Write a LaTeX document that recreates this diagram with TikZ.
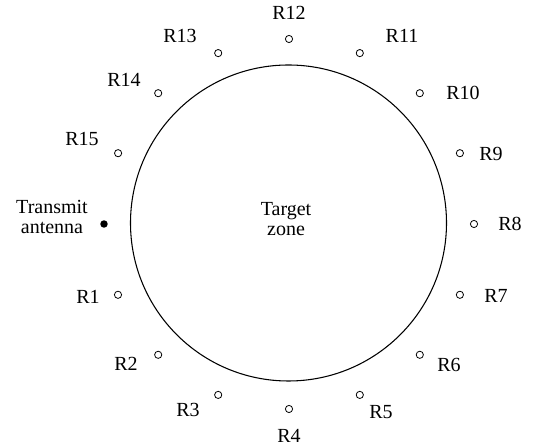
\documentclass[tikz,border=0pt]{standalone}
\usepackage{fontspec}
\setmainfont{Liberation Serif}
\usepackage{tikz}

\tikzset{
  rx/.style={circle,draw,line width=0.6pt,inner sep=0pt,minimum size=5.4pt},
  tx/.style={circle,fill,inner sep=0pt,minimum size=5.6pt},
  lbl/.style={inner sep=0.75pt,font=\fontsize{15}{15.5}\selectfont}
}

\begin{document}
\begin{tikzpicture}[x=0.75pt,y=0.75pt,yscale=-1,xscale=1]
\useasboundingbox (0,0) rectangle (533,448);

%Target zone
\draw [line width=0.8pt] (288.5,223) circle (158);
\node [lbl,align=center] (zone) at (286,219) {Target\\zone};

%Transmit antenna
\node [tx] (ant) at (104,224) {};
\node [lbl,align=center] (antlbl) at (52,217) {Transmit\\antenna};

%Receivers
\node [rx] (r1) at (118,294.8) {};
\node [rx] (r2) at (158.2,354.8) {};
\node [rx] (r3) at (218.2,394.9) {};
\node [rx] (r4) at (289,409) {};
\node [rx] (r5) at (359.8,394.9) {};
\node [rx] (r6) at (419.8,354.8) {};
\node [rx] (r7) at (459.9,294.8) {};
\node [rx] (r8) at (474,224) {};
\node [rx] (r9) at (459.9,153.2) {};
\node [rx] (r10) at (419.8,93.2) {};
\node [rx] (r11) at (359.8,53.1) {};
\node [rx] (r12) at (289,39) {};
\node [rx] (r13) at (218.2,53.1) {};
\node [rx] (r14) at (158.2,93.2) {};
\node [rx] (r15) at (118.1,153.2) {};

% Text Node
\node [lbl] (l1) at (88,297) {R1};
\node [lbl] (l2) at (126,364) {R2};
\node [lbl] (l3) at (188,410) {R3};
\node [lbl] (l4) at (289,436) {R4};
\node [lbl] (l5) at (381,412) {R5};
\node [lbl] (l6) at (449,365) {R6};
\node [lbl] (l7) at (496,296) {R7};
\node [lbl] (l8) at (510,224) {R8};
\node [lbl] (l9) at (491,154) {R9};
\node [lbl] (l10) at (463,93) {R10};
\node [lbl] (l11) at (402,36) {R11};
\node [lbl] (l12) at (289,13) {R12};
\node [lbl] (l13) at (180,36) {R13};
\node [lbl] (l14) at (124,80) {R14};
\node [lbl] (l15) at (82,139) {R15};
\end{tikzpicture}
\end{document}
